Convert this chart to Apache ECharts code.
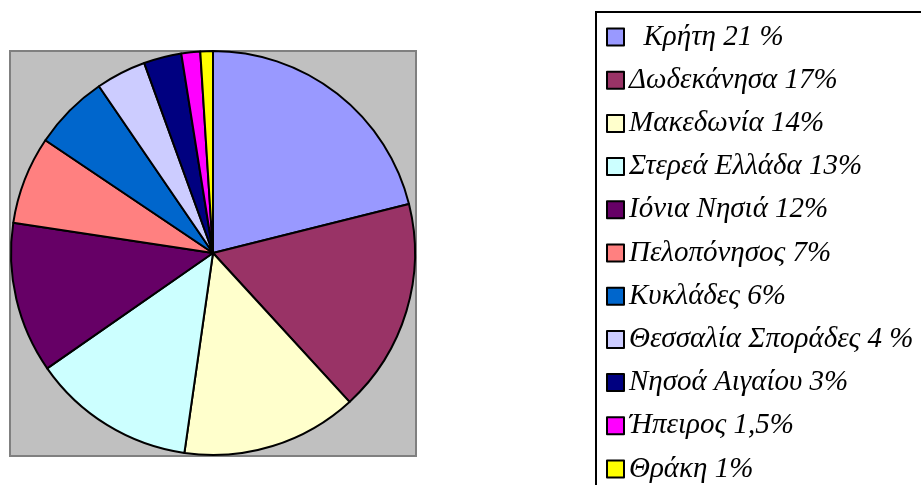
<!DOCTYPE html>
<html>
<head>
<meta charset="utf-8">
<script src="https://cdn.jsdelivr.net/npm/echarts@6/dist/echarts.min.js"></script>
<style>
  html, body { margin: 0; padding: 0; background: #fff; }
  #main { width: 921px; height: 485px; }
</style>
</head>
<body>
<div id="main"></div>
<script>
var regions = ['  Κρήτη 21 %', 'Δωδεκάνησα 17%', 'Μακεδωνία 14%', 'Στερεά Ελλάδα 13%', 'Ιόνια Νησιά 12%',
  'Πελοπόνησος 7%', 'Κυκλάδες 6%', 'Θεσσαλία Σποράδες 4 %', 'Νησοά Αιγαίου 3%', 'Ήπειρος 1,5%', 'Θράκη 1%'];
var shares = [21, 17, 14, 13, 12, 7, 6, 4, 3, 1.5, 1];
var colors = ['#9999FF', '#993366', '#FFFFCC', '#CCFFFF', '#660066', '#FF8080',
  '#0066CC', '#CCCCFF', '#000080', '#FF00FF', '#FFFF00'];

var chart = echarts.init(document.getElementById('main'));

var pieData = regions.map(function (n, i) {
  return { name: n, value: shares[i], itemStyle: { color: colors[i] } };
});

var option = {
  animation: false,
  graphic: [
    // grey plot area
    { type: 'rect', z: 0, shape: { x: 10, y: 51, width: 406, height: 405 },
      style: { fill: '#C0C0C0', stroke: '#808080', lineWidth: 2 } },
    // legend frame
    { type: 'rect', z: 0, shape: { x: 596, y: 12, width: 400, height: 500 },
      style: { fill: '#fff', stroke: '#000', lineWidth: 2 } }
  ],
  legend: {
    orient: 'vertical',
    left: 606,
    top: 22,
    padding: 0,
    itemWidth: 17,
    itemHeight: 17,
    itemGap: 13.2,
    icon: 'rect',
    itemStyle: { borderColor: '#000', borderWidth: 2 },
    textStyle: {
      fontFamily: 'Liberation Serif',
      fontStyle: 'italic',
      fontSize: 29,
      lineHeight: 30,
      color: '#000'
    },
    data: regions
  },
  series: [{
    type: 'pie',
    center: [213, 253],
    radius: 202,
    startAngle: 90,
    clockwise: true,
    label: { show: false },
    labelLine: { show: false },
    emphasis: { disabled: true },
    itemStyle: { borderColor: '#000', borderWidth: 2 },
    data: pieData
  }]
};
chart.setOption(option);
</script>
</body>
</html>
